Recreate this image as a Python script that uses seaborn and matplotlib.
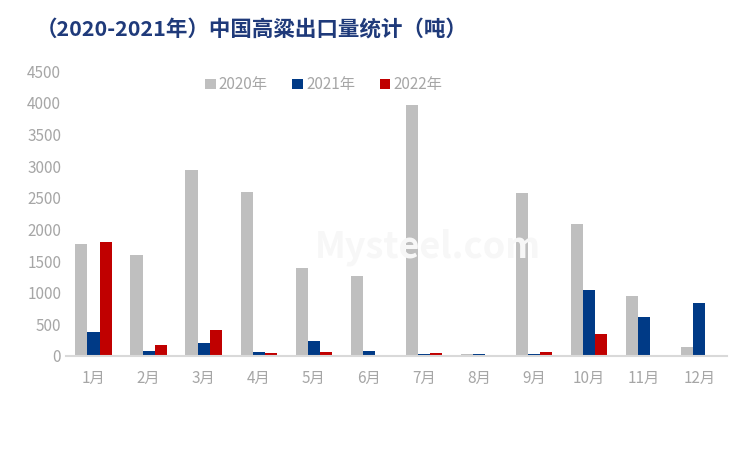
import numpy as np
import pandas as pd
import seaborn as sns
import matplotlib
matplotlib.use("Agg")
import matplotlib.pyplot as plt

# 数据
months = ["1月", "2月", "3月", "4月", "5月", "6月", "7月", "8月", "9月", "10月", "11月", "12月"]
y2020 = [1770, 1600, 2940, 2590, 1390, 1270, 3970, 25, 2580, 2090, 940, 140]
y2021 = [385, 85, 210, 65, 240, 85, 25, 25, 25, 1045, 620, 840]
y2022 = [1800, 180, 410, 40, 65, 0, 40, 0, 60, 350, 0, 0]
series = ["2020年", "2021年", "2022年"]
colors = ["#BFBFBF", "#003A86", "#C00000"]

df = pd.DataFrame({"月份": months * 3,
                   "年份": np.repeat(series, len(months)),
                   "出口量": y2020 + y2021 + y2022})

sns.set_theme(style="white")
plt.rcParams['font.family'] = ['Noto Sans CJK SC', 'DejaVu Sans']

fig = plt.figure(figsize=(7.5, 4.5), dpi=100)
ax = fig.add_axes([0.088, 0.209, 0.881, 0.633])

sns.barplot(data=df, x="月份", y="出口量", hue="年份", palette=colors,
            width=0.66, gap=0, ax=ax, saturation=1, legend=True, linewidth=0)

ax.set_ylim(0, 4500)
ax.set_yticks(range(0, 4501, 500))
ax.set_xlim(-0.5, 11.5)
ax.set_xlabel("")
ax.set_ylabel("")
for s in ["top", "right", "left"]:
    ax.spines[s].set_visible(False)
ax.spines["bottom"].set_color("#D9D9D9")
ax.spines["bottom"].set_linewidth(1.5)
ax.tick_params(axis="both", colors="#A6A6A6", labelsize=11, length=0)
ax.tick_params(axis="x", pad=10)

leg = ax.legend(loc="upper center", bbox_to_anchor=(0.39, 1.03), ncol=3, frameon=False,
                fontsize=11, handlelength=0.7, handleheight=0.7, columnspacing=1.6,
                handletextpad=0.2)
for t in leg.get_texts():
    t.set_color("#A6A6A6")

# 水印
fig.text(0.57, 0.45, "Mysteel.com", fontsize=26, color="#F7F7F7", fontweight="bold",
         ha="center", va="center", zorder=0)

fig.text(0.048, 0.935, "（2020-2021年）中国高粱出口量统计（吨）", fontsize=15.5,
         fontweight="bold", color="#1F3A7A", ha="left", va="center")

fig.savefig("out.png", dpi=100)
